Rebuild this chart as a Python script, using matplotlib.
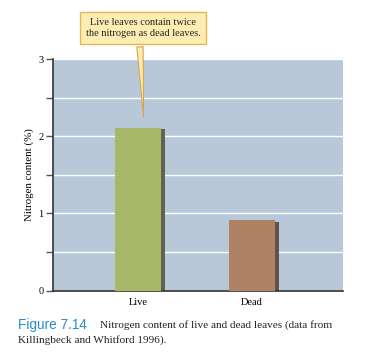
import numpy as np
import matplotlib.pyplot as plt

# Data
categories = ["Live", "Dead"]
nitrogen = [2.11, 0.915]
bar_colors = ["#a8b86a", "#ad8265"]
shadow_colors = ["#5f6350", "#5e5448"]

serif = ["Liberation Serif", "DejaVu Serif"]

W, H = 366, 353
fig = plt.figure(figsize=(W / 100, H / 100), dpi=100)
ax = fig.add_axes([53 / W, 62.3 / H, 290 / W, 231.7 / H])
ax.set_facecolor("#b8c8d9")

x = np.arange(len(categories))
width = 0.40
# drop shadow behind each bar
ax.bar(x + 0.035, np.array(nitrogen) - 0.02, width=width, color=shadow_colors, zorder=2)
ax.bar(x, nitrogen, width=width, color=bar_colors, zorder=3)

ax.set_xlim(-0.746, 1.798)
ax.set_ylim(0, 3)
ax.set_yticks(np.arange(0, 3.01, 0.5))
ax.set_yticklabels(["0", "", "1", "", "2", "", "3"], family=serif, fontsize=7.5)
ax.set_xticks(x)
ax.set_xticklabels(categories, family=serif, fontsize=7.5)
ax.tick_params(axis="x", length=0, pad=5)
ax.tick_params(axis="y", length=5, width=1, color="#555555", pad=2)
ax.grid(axis="y", color="white", linewidth=1.0, zorder=1)
ax.set_axisbelow(True)
for s in ["top", "right"]:
    ax.spines[s].set_visible(False)
ax.spines["left"].set_color("#333333")
ax.spines["bottom"].set_color("#333333")
ax.spines["left"].set_linewidth(1.2)
ax.spines["bottom"].set_linewidth(1.2)
ax.set_ylabel("Nitrogen content (%)", family=serif, fontsize=7.8, labelpad=3)

# callout
ax.annotate("Live leaves contain twice\nthe nitrogen as dead leaves.",
            xy=(0.05, 2.21), xycoords="data",
            xytext=(143 / W, 1 - 28 / H), textcoords="figure fraction",
            ha="center", va="center", family=serif, fontsize=7.5, color="#222222",
            linespacing=1.4, annotation_clip=False,
            bbox=dict(boxstyle="square,pad=0.5", fc="#fdedb2", ec="#e3b55a", lw=1.0),
            arrowprops=dict(arrowstyle="wedge,tail_width=0.6,shrink_factor=0.5",
                            fc="#fdedb2", ec="#d9a548", lw=0.8, relpos=(0.47, 0.0)))

# caption
fig.text(18 / W, 1 - 325 / H, "Figure 7.14", family=["Liberation Sans", "DejaVu Sans"],
         fontsize=9.8, color="#2a8ac8", va="center")
fig.text(100 / W, 1 - 325 / H, "Nitrogen content of live and dead leaves (data from",
         family=serif, fontsize=8.1, color="#222222", va="center")
fig.text(18 / W, 1 - 340 / H, "Killingbeck and Whitford 1996).",
         family=serif, fontsize=8.1, color="#222222", va="center")

fig.savefig("out.png", dpi=100)
